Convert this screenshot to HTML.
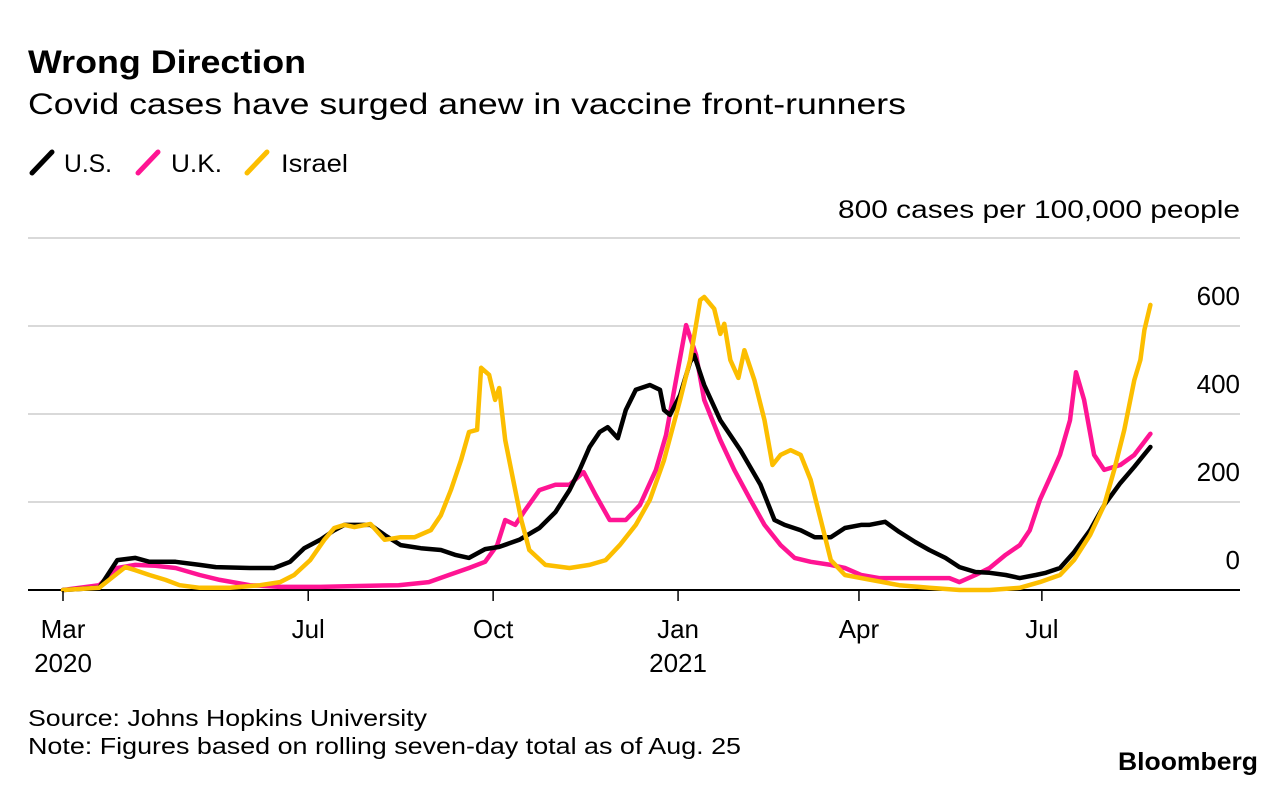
<!DOCTYPE html>
<html><head><meta charset="utf-8"><style>
html,body{margin:0;padding:0;background:#fff;}
svg{display:block;font-family:"Liberation Sans",Arial,sans-serif;}
</style></head><body>
<svg id="chart" width="1286" height="786" viewBox="0 0 1286 786">
<text x="28" y="73" font-size="32" font-weight="bold" textLength="278" lengthAdjust="spacingAndGlyphs" fill="#000">Wrong Direction</text>
<text x="28" y="114" font-size="30" textLength="878" lengthAdjust="spacingAndGlyphs" fill="#000">Covid cases have surged anew in vaccine front-runners</text>
<g>
<g><line x1="32" y1="173" x2="52" y2="152" stroke="#000" stroke-width="5" stroke-linecap="round"/><text x="64" y="172" font-size="25" textLength="48" lengthAdjust="spacingAndGlyphs">U.S.</text></g>
<g><line x1="138" y1="173" x2="158" y2="152" stroke="#ff1493" stroke-width="5" stroke-linecap="round"/><text x="171" y="172" font-size="25" textLength="51" lengthAdjust="spacingAndGlyphs">U.K.</text></g>
<g><line x1="247" y1="173" x2="267" y2="152" stroke="#fcbe00" stroke-width="5" stroke-linecap="round"/><text x="281" y="172" font-size="25" textLength="67" lengthAdjust="spacingAndGlyphs">Israel</text></g>
</g>
<text x="838" y="218" font-size="25" textLength="402" lengthAdjust="spacingAndGlyphs">800 cases per 100,000 people</text>
<g id="grid"></g>
<g id="series"></g>
<g id="xaxis"></g>
<text x="28" y="726" font-size="23" textLength="399" lengthAdjust="spacingAndGlyphs">Source: Johns Hopkins University</text>
<text x="28" y="754" font-size="23" textLength="713" lengthAdjust="spacingAndGlyphs">Note: Figures based on rolling seven-day total as of Aug. 25</text>
<text x="1118" y="770" font-size="25" font-weight="bold" textLength="140" lengthAdjust="spacingAndGlyphs">Bloomberg</text>
</svg>
<script>
const yTicks=[0,200,400,600,800];
const yTickLabels=["0","200","400","600",""];
const xTickDays=[0,122,214,306,396,487];
const xTickLabels=["Mar","Jul","Oct","Jan","Apr","Jul"];
const xYearLabels=["2020","","","2021","",""];
const usDays=[0,18,27,36,43,56,68,76,93,105,113,120,128,135,140,153,160,168,178,188,195,202,210,217,227,237,245,252,257,262,267,271,276,280,285,292,297,299,302,307,312,314,319,327,337,347,354,359,367,374,382,389,397,401,409,416,424,431,439,446,454,461,469,476,484,489,496,503,511,518,526,533,541];
const usValues=[0,5,68,73,64,64,57,52,50,50,64,95,114,136,148,148,125,102,95,91,80,73,93,98,114,141,177,227,273,325,359,370,345,409,455,466,455,409,398,443,518,534,466,386,318,239,159,148,136,120,120,141,148,148,155,132,109,91,73,52,41,39,34,27,34,39,50,86,136,193,243,280,325];
const ukDays=[0,18,27,36,46,56,68,78,93,108,128,147,167,182,192,202,210,216,220,225,230,237,245,252,259,265,272,280,287,295,300,305,310,315,319,327,334,342,349,357,364,372,382,389,397,406,416,431,441,446,454,461,469,476,481,486,491,496,501,504,508,513,518,526,533,541];
const ukValues=[0,11,50,57,55,50,34,23,11,7,7,9,11,18,34,50,64,102,159,148,182,227,239,239,268,216,159,159,193,273,352,477,602,534,432,341,273,205,148,102,73,64,57,50,34,27,27,27,27,18,34,50,80,102,136,205,255,307,386,495,432,307,273,284,307,355];
const ilDays=[0,18,26,31,36,43,51,58,68,83,98,108,115,123,130,135,140,145,153,160,168,175,183,188,193,198,202,206,208,212,215,217,220,224,228,232,240,252,262,270,277,285,292,299,307,312,317,319,324,327,329,332,336,339,344,349,353,357,362,367,372,377,382,389,402,416,431,446,461,476,486,496,503,511,518,523,528,533,536,538,541];
const ilValues=[0,5,34,52,45,34,23,11,5,5,11,18,34,68,114,141,148,143,150,114,120,120,136,170,227,295,359,364,505,489,432,459,341,250,159,91,57,50,57,68,102,148,205,295,432,523,659,666,639,582,605,523,482,545,477,386,284,307,318,307,250,159,68,34,23,11,5,0,0,5,18,34,68,125,193,273,364,477,523,591,648];

const NS="http://www.w3.org/2000/svg";
const xS=d=>63+d*2.01;
const yS=v=>590-v*0.44;
function mk(tag,attrs,parent){const e=document.createElementNS(NS,tag);for(const k in attrs)e.setAttribute(k,attrs[k]);parent.appendChild(e);return e;}
const grid=document.getElementById('grid');
yTicks.forEach((t,i)=>{
  const l=mk('line',{x1:28,x2:1240,y1:yS(t),y2:yS(t),stroke:t===0?'#000':'#d9d9d9','stroke-width':2},grid);
  
  
  if(yTickLabels[i]){
    const tx=mk('text',{x:1240,y:yS(t)-21,'font-size':26,'text-anchor':'end'},grid);
    tx.textContent=yTickLabels[i];
    
    
  }
});
const xa=document.getElementById('xaxis');
xTickDays.forEach((d,i)=>{
  const l=mk('line',{x1:xS(d),x2:xS(d),y1:591,y2:601,stroke:'#000','stroke-width':1.5},xa);
  
  
  const t=mk('text',{x:xS(d),y:638,'font-size':26,'text-anchor':'middle'},xa);
  t.textContent=xTickLabels[i];
  
  
  if(xYearLabels[i]){
    const y=mk('text',{x:xS(d),y:672,'font-size':26,'text-anchor':'middle'},xa);
    y.textContent=xYearLabels[i];
    
    
  }
});
const sg=document.getElementById('series');
function draw(days,vals,color,name){
  const d=days.map((dd,i)=>(i?'L':'M')+xS(dd).toFixed(1)+','+yS(vals[i]).toFixed(1)).join(' ');
  const p=mk('path',{d:d,fill:'none',stroke:color,'stroke-width':4.5,'stroke-linejoin':'round','stroke-linecap':'round'},sg);
  
  
}
draw(ukDays,ukValues,'#ff1493','line-uk');
draw(usDays,usValues,'#000','line-us');
draw(ilDays,ilValues,'#fcbe00','line-israel');
</script>
</body></html>
